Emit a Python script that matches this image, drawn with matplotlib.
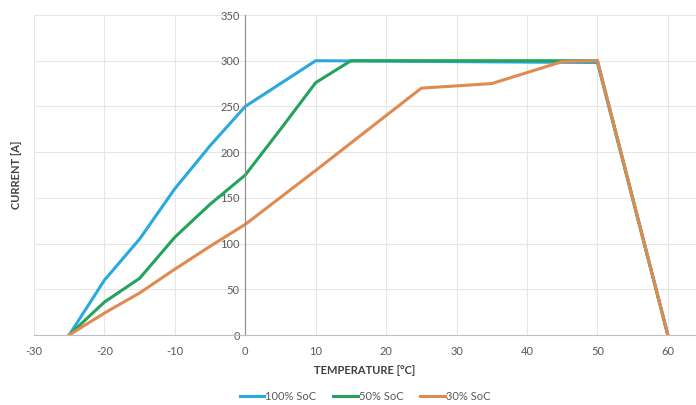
import numpy as np
import matplotlib
matplotlib.use('Agg')
import matplotlib.pyplot as plt

# Temperature / current values
temp_100 = [-25, -20, -15, -10, -5, 0, 5, 10, 50, 60]
cur_100 = [0, 60, 105, 160, 207, 250, 275, 300, 298, 0]

temp_50 = [-25, -20, -15, -10, -5, 0, 5, 10, 15, 50, 60]
cur_50 = [0, 36, 62, 107, 143, 175, 225, 276, 300, 300, 0]

temp_30 = [-25, -20, -15, -10, -5, 0, 10, 25, 35, 45, 50, 60]
cur_30 = [0, 24, 46, 72, 97, 121, 180, 270, 275, 299, 300, 0]

series_labels = ['100% SoC', '50% SoC', '30% SoC']
x_ticks = [-30, -20, -10, 0, 10, 20, 30, 40, 50, 60]
y_ticks = [0, 50, 100, 150, 200, 250, 300, 350]

plt.rcParams['font.family'] = ['Lato', 'DejaVu Sans']
plt.rcParams['axes.unicode_minus'] = False

fig = plt.figure(figsize=(6.96, 4.05), dpi=100)
ax = fig.add_axes([34 / 696, 1 - 335 / 405, 1 - 34 / 696, 320 / 405])

ax.plot(temp_100, cur_100, color='#2aa8df', lw=2.2, label=series_labels[0])
ax.plot(temp_50, cur_50, color='#23a35c', lw=2.2, label=series_labels[1])
ax.plot(temp_30, cur_30, color='#e08a50', lw=2.2, label=series_labels[2])

ax.set_xlim(-30, 64)
ax.set_ylim(0, 350)
ax.set_xticks(x_ticks)
ax.set_yticks(y_ticks)

ax.grid(True, color='#e6e6e6', lw=0.8)
ax.set_axisbelow(True)

ax.spines['left'].set_position(('data', 0))
ax.spines['left'].set_color('#8c8c8c')
ax.spines['bottom'].set_color('#bfbfbf')
ax.spines['top'].set_visible(False)
ax.spines['right'].set_visible(False)
ax.tick_params(axis='both', length=0, labelsize=8, colors='#595959', pad=4)
ax.tick_params(axis='x', pad=8)

fig.text(365 / 696, 1 - 371 / 405, 'TEMPERATURE [°C]', ha='center', va='center',
         fontsize=8, fontweight='bold', color='#404040')
fig.text(17 / 696, 1 - 175 / 405, 'CURRENT [A]', ha='center', va='center',
         rotation=90, fontsize=8, fontweight='bold', color='#404040')

fig.legend(loc='center', bbox_to_anchor=(365 / 696, 1 - 396 / 405), ncol=3,
           frameon=False, fontsize=8, handlelength=2.2, handletextpad=0.1,
           columnspacing=1.5, labelcolor='#595959')

fig.savefig('out.png', dpi=100)
